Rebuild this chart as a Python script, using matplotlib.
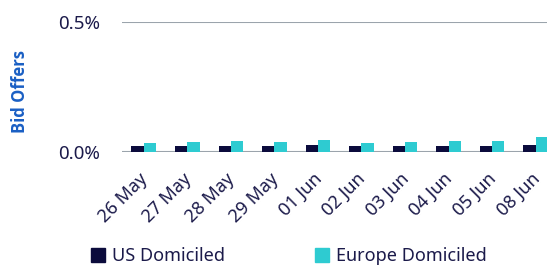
import matplotlib
matplotlib.use("Agg")
import matplotlib.pyplot as plt
import matplotlib.patches as mpatches
import matplotlib.transforms as mtransforms
import numpy as np

# data (values in %)
dates = ["26 May", "27 May", "28 May", "29 May", "01 Jun",
         "02 Jun", "03 Jun", "04 Jun", "05 Jun", "08 Jun"]
us_domiciled = [0.022, 0.022, 0.022, 0.022, 0.026, 0.022, 0.021, 0.022, 0.022, 0.025]
europe_domiciled = [0.034, 0.037, 0.042, 0.037, 0.044, 0.035, 0.036, 0.041, 0.041, 0.057]
series_names = ["US Domiciled", "Europe Domiciled"]

navy = "#0b0b3c"
teal = "#2ecbd1"
text_col = "#1b1a4a"
grid_col = "#9ba4ac"

plt.rcParams['font.family'] = ['Noto Sans', 'DejaVu Sans']

fig = plt.figure(figsize=(5.47, 2.65), dpi=100)
ax = fig.add_axes([0.223, 0.4275, 0.796, 0.4894])

x = np.arange(len(dates))
w = 0.282
ax.bar(x - w / 2, us_domiciled, width=w, color=navy, zorder=3)
ax.bar(x + w / 2, europe_domiciled, width=w, color=teal, zorder=3)

ax.set_xlim(-0.5, len(dates) - 0.5)
ax.set_ylim(0, 0.5)
ax.set_yticks([0, 0.5])
ax.set_yticklabels(["0.0%", "0.5%"])
ax.yaxis.grid(True, color=grid_col, linewidth=1.5)
ax.set_axisbelow(True)
for s in ax.spines.values():
    s.set_visible(False)
ax.tick_params(axis='y', length=0, pad=16, labelsize=13.5, labelcolor=text_col)
ax.tick_params(axis='x', length=0, pad=13, labelsize=13, labelcolor=text_col)
ax.set_xticks(x)
ax.set_xticklabels(dates, rotation=45, ha='right', va='top', rotation_mode='anchor')
# nudge the date labels a little to the left
shift = mtransforms.ScaledTranslation(-5 / 100, 0, fig.dpi_scale_trans)
for lbl in ax.get_xticklabels():
    lbl.set_transform(lbl.get_transform() + shift)

fig.text(20 / 547, 1 - 92 / 265, "Bid Offers", rotation=90, ha='center', va='center',
         fontsize=12, fontweight='bold', color="#1a5fc4", family=['Open Sans', 'DejaVu Sans'])

handles = [mpatches.Patch(color=navy), mpatches.Patch(color=teal)]
leg = fig.legend(handles, series_names, loc='center left',
                 bbox_to_anchor=(91 / 547, 1 - 256 / 265), ncol=2, frameon=False,
                 fontsize=13, handlelength=0.8, handleheight=0.8, handletextpad=0.35,
                 columnspacing=5.0, borderpad=0, borderaxespad=0)
for t in leg.get_texts():
    t.set_color(text_col)

fig.savefig("out.png", dpi=100)
